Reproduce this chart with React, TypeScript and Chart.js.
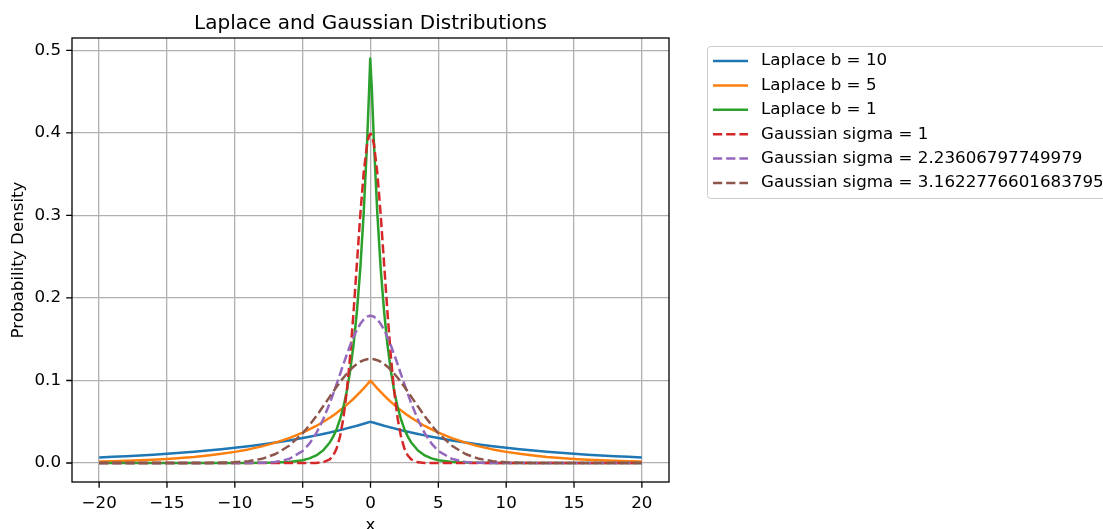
import React, { useEffect, useRef } from "react";
import { Chart, registerables } from "chart.js";

Chart.register(...registerables);

const xValues = [
  -20, -19, -18, -17, -16, -15, -14, -13, -12, -11, -10, -9, -8, -7, -6, -5, -4.5, -4, -3.5, -3,
  -2.75, -2.5, -2.25, -2, -1.75, -1.5, -1.25, -1, -0.75, -0.5, -0.25, -0.1, -0.02,
  0.02, 0.1, 0.25, 0.5, 0.75, 1, 1.25, 1.5, 1.75, 2, 2.25, 2.5, 2.75, 3, 3.5, 4, 4.5, 5,
  6, 7, 8, 9, 10, 11, 12, 13, 14, 15, 16, 17, 18, 19, 20,
];

const laplaceB10 = [
  0.0068, 0.0075, 0.0083, 0.0091, 0.0101, 0.0112, 0.0123, 0.0136, 0.0151, 0.0166, 0.0184, 0.0203, 0.0225, 0.0248, 0.0274, 0.0303, 0.0319, 0.0335, 0.0352, 0.037,
  0.038, 0.0389, 0.0399, 0.0409, 0.042, 0.043, 0.0441, 0.0452, 0.0464, 0.0476, 0.0488, 0.0495, 0.0499,
  0.0499, 0.0495, 0.0488, 0.0476, 0.0464, 0.0452, 0.0441, 0.043, 0.042, 0.0409, 0.0399, 0.0389, 0.038, 0.037, 0.0352, 0.0335, 0.0319, 0.0303,
  0.0274, 0.0248, 0.0225, 0.0203, 0.0184, 0.0166, 0.0151, 0.0136, 0.0123, 0.0112, 0.0101, 0.0091, 0.0083, 0.0075, 0.0068,
];

const laplaceB5 = [
  0.0018, 0.0022, 0.0027, 0.0033, 0.0041, 0.005, 0.0061, 0.0074, 0.0091, 0.0111, 0.0135, 0.0165, 0.0202, 0.0247, 0.0301, 0.0368, 0.0407, 0.0449, 0.0497, 0.0549,
  0.0577, 0.0607, 0.0638, 0.067, 0.0705, 0.0741, 0.0779, 0.0819, 0.0861, 0.0905, 0.0951, 0.098, 0.0996,
  0.0996, 0.098, 0.0951, 0.0905, 0.0861, 0.0819, 0.0779, 0.0741, 0.0705, 0.067, 0.0638, 0.0607, 0.0577, 0.0549, 0.0497, 0.0449, 0.0407, 0.0368,
  0.0301, 0.0247, 0.0202, 0.0165, 0.0135, 0.0111, 0.0091, 0.0074, 0.0061, 0.005, 0.0041, 0.0033, 0.0027, 0.0022, 0.0018,
];

const laplaceB1 = [
  0, 0, 0, 0, 0, 0, 0, 0, 0, 0, 0, 0.0001, 0.0002, 0.0005, 0.0012, 0.0034, 0.0056, 0.0092, 0.0151, 0.0249,
  0.032, 0.041, 0.0527, 0.0677, 0.0869, 0.1116, 0.1433, 0.1839, 0.2362, 0.3033, 0.3894, 0.4524, 0.4901,
  0.4901, 0.4524, 0.3894, 0.3033, 0.2362, 0.1839, 0.1433, 0.1116, 0.0869, 0.0677, 0.0527, 0.041, 0.032, 0.0249, 0.0151, 0.0092, 0.0056, 0.0034,
  0.0012, 0.0005, 0.0002, 0.0001, 0, 0, 0, 0, 0, 0, 0, 0, 0, 0, 0,
];

const gaussS1 = [
  0, 0, 0, 0, 0, 0, 0, 0, 0, 0, 0, 0, 0, 0, 0, 0, 0, 0.0001, 0.0009, 0.0044,
  0.0091, 0.0175, 0.0317, 0.054, 0.0863, 0.1295, 0.1826, 0.242, 0.3011, 0.3521, 0.3867, 0.397, 0.3988,
  0.3988, 0.397, 0.3867, 0.3521, 0.3011, 0.242, 0.1826, 0.1295, 0.0863, 0.054, 0.0317, 0.0175, 0.0091, 0.0044, 0.0009, 0.0001, 0, 0,
  0, 0, 0, 0, 0, 0, 0, 0, 0, 0, 0, 0, 0, 0, 0,
];

const gaussS223 = [
  0, 0, 0, 0, 0, 0, 0, 0, 0, 0, 0, 0.0001, 0.0003, 0.0013, 0.0049, 0.0146, 0.0235, 0.036, 0.0524, 0.0725,
  0.0837, 0.0955, 0.1075, 0.1196, 0.1313, 0.1425, 0.1526, 0.1614, 0.1687, 0.174, 0.1773, 0.1782, 0.1784,
  0.1784, 0.1782, 0.1773, 0.174, 0.1687, 0.1614, 0.1526, 0.1425, 0.1313, 0.1196, 0.1075, 0.0955, 0.0837, 0.0725, 0.0524, 0.036, 0.0235, 0.0146,
  0.0049, 0.0013, 0.0003, 0.0001, 0, 0, 0, 0, 0, 0, 0, 0, 0, 0, 0,
];

const gaussS316 = [
  0, 0, 0, 0, 0, 0, 0, 0, 0.0001, 0.0003, 0.0009, 0.0022, 0.0051, 0.0109, 0.0209, 0.0361, 0.0458, 0.0567, 0.0684, 0.0804,
  0.0864, 0.0923, 0.0979, 0.1033, 0.1082, 0.1127, 0.1167, 0.12, 0.1227, 0.1246, 0.1258, 0.1261, 0.1262,
  0.1262, 0.1261, 0.1258, 0.1246, 0.1227, 0.12, 0.1167, 0.1127, 0.1082, 0.1033, 0.0979, 0.0923, 0.0864, 0.0804, 0.0684, 0.0567, 0.0458, 0.0361,
  0.0209, 0.0109, 0.0051, 0.0022, 0.0009, 0.0003, 0.0001, 0, 0, 0, 0, 0, 0, 0, 0,
];

const seriesLabels = [
  "Laplace b = 10",
  "Laplace b = 5",
  "Laplace b = 1",
  "Gaussian sigma = 1",
  "Gaussian sigma = 2.23606797749979",
  "Gaussian sigma = 3.1622776601683795",
];
const seriesValues = [laplaceB10, laplaceB5, laplaceB1, gaussS1, gaussS223, gaussS316];
const seriesColors = ["#1f77b4", "#ff7f0e", "#2ca02c", "#d62728", "#9467bd", "#8c564b"];
const seriesDashed = [false, false, false, true, true, true];

const xTicks = [-20, -15, -10, -5, 0, 5, 10, 15, 20];
const yTicks = [0, 0.1, 0.2, 0.3, 0.4, 0.5];

const titleText = "Laplace and Gaussian Distributions";
const xLabel = "x";
const yLabel = "Probability Density";

const FONT = "'DejaVu Sans', sans-serif";
const W = 1103;
const H = 529;
const DASH = [9.2, 4];
const LW = 2.5;

function fmtTick(v: number, digits: number) {
  const s = Math.abs(v).toFixed(digits);
  return v < 0 ? "\u2212" + s : s;
}

export default function App() {
  const ref = useRef<HTMLCanvasElement>(null);

  useEffect(() => {
    document.body.style.margin = "0";
    const canvas = ref.current!;

    const overlay = {
      id: "overlay",
      afterDraw(chart: any) {
        const ctx = chart.ctx;
        const a = chart.chartArea;
        const sx = chart.scales.x;
        const sy = chart.scales.y;
        ctx.save();
        // spines
        ctx.strokeStyle = "#000";
        ctx.lineWidth = 1.3;
        ctx.strokeRect(a.left, a.top, a.right - a.left, a.bottom - a.top);
        // tick marks
        ctx.beginPath();
        xTicks.forEach((v) => {
          const px = sx.getPixelForValue(v);
          ctx.moveTo(px, a.bottom);
          ctx.lineTo(px, a.bottom + 5.8);
        });
        yTicks.forEach((v) => {
          const py = sy.getPixelForValue(v);
          ctx.moveTo(a.left, py);
          ctx.lineTo(a.left - 5.8, py);
        });
        ctx.stroke();

        // title
        ctx.fillStyle = "#000";
        ctx.font = `20px ${FONT}`;
        ctx.textAlign = "center";
        ctx.textBaseline = "alphabetic";
        ctx.fillText(titleText, (a.left + a.right) / 2, 28.5);
        // x label
        ctx.font = `16.7px ${FONT}`;
        ctx.fillText(xLabel, (a.left + a.right) / 2, 530);
        // y label
        ctx.save();
        ctx.translate(19, (a.top + a.bottom) / 2);
        ctx.rotate(-Math.PI / 2);
        ctx.textBaseline = "middle";
        ctx.fillText(yLabel, 0, 0);
        ctx.restore();

        // legend
        const lx = 707.5;
        const ly = 46.5;
        const lw = 420;
        const lh = 152;
        ctx.beginPath();
        const r = 3;
        ctx.moveTo(lx + r, ly);
        ctx.lineTo(lx + lw - r, ly);
        ctx.arcTo(lx + lw, ly, lx + lw, ly + r, r);
        ctx.lineTo(lx + lw, ly + lh - r);
        ctx.arcTo(lx + lw, ly + lh, lx + lw - r, ly + lh, r);
        ctx.lineTo(lx + r, ly + lh);
        ctx.arcTo(lx, ly + lh, lx, ly + lh - r, r);
        ctx.lineTo(lx, ly + r);
        ctx.arcTo(lx, ly, lx + r, ly, r);
        ctx.closePath();
        ctx.fillStyle = "rgba(255,255,255,0.8)";
        ctx.fill();
        ctx.strokeStyle = "#cccccc";
        ctx.lineWidth = 1;
        ctx.stroke();

        ctx.font = `16.7px ${FONT}`;
        ctx.textAlign = "left";
        ctx.textBaseline = "middle";
        seriesLabels.forEach((lab, i) => {
          const y = 61 + i * 24.4;
          ctx.beginPath();
          ctx.strokeStyle = seriesColors[i];
          ctx.lineWidth = LW;
          ctx.setLineDash(seriesDashed[i] ? DASH : []);
          ctx.moveTo(713, y);
          ctx.lineTo(748, y);
          ctx.stroke();
          ctx.setLineDash([]);
          ctx.fillStyle = "#000";
          ctx.fillText(lab, 761, y);
        });
        ctx.restore();
      },
    };

    const chart = new Chart(canvas, {
      type: "line",
      data: {
        datasets: seriesValues.map((vals, i) => ({
          label: seriesLabels[i],
          data: xValues.map((x, j) => ({ x, y: vals[j] })),
          borderColor: seriesColors[i],
          backgroundColor: seriesColors[i],
          borderWidth: LW,
          borderDash: seriesDashed[i] ? DASH : [],
          borderJoinStyle: "round",
          pointRadius: 0,
          fill: false,
          tension: 0,
          order: 6 - i,
        })),
      },
      options: {
        animation: false,
        responsive: false,
        maintainAspectRatio: false,
        events: [],
        layout: { padding: { left: 0, top: 38, right: 434, bottom: 0 } },
        plugins: {
          legend: { display: false },
          tooltip: { enabled: false },
          title: { display: false },
        },
        scales: {
          x: {
            type: "linear",
            min: -22,
            max: 22,
            afterBuildTicks: (s: any) => {
              s.ticks = xTicks.map((v) => ({ value: v }));
            },
            afterFit: (s: any) => {
              s.height = 47;
            },
            grid: { color: "#b0b0b0", lineWidth: 1.3, drawTicks: false },
            border: { display: false },
            ticks: {
              color: "#000",
              font: { family: FONT, size: 16.7 },
              padding: 12,
              maxRotation: 0,
              autoSkip: false,
              callback: (v: any) => fmtTick(Number(v), 0),
            },
          },
          y: {
            type: "linear",
            min: -0.023,
            max: 0.515,
            afterBuildTicks: (s: any) => {
              s.ticks = yTicks.map((v) => ({ value: v }));
            },
            afterFit: (s: any) => {
              s.width = 72;
            },
            grid: { color: "#b0b0b0", lineWidth: 1.3, drawTicks: false },
            border: { display: false },
            ticks: {
              color: "#000",
              font: { family: FONT, size: 16.7 },
              padding: 11,
              autoSkip: false,
              callback: (v: any) => fmtTick(Number(v), 1),
            },
          },
        },
      },
      plugins: [overlay],
    } as any);

    return () => chart.destroy();
  }, []);

  return (
    <div style={{ width: W, height: H, background: "#fff" }}>
      <canvas ref={ref} width={W} height={H} style={{ display: "block", width: W, height: H }} />
    </div>
  );
}
